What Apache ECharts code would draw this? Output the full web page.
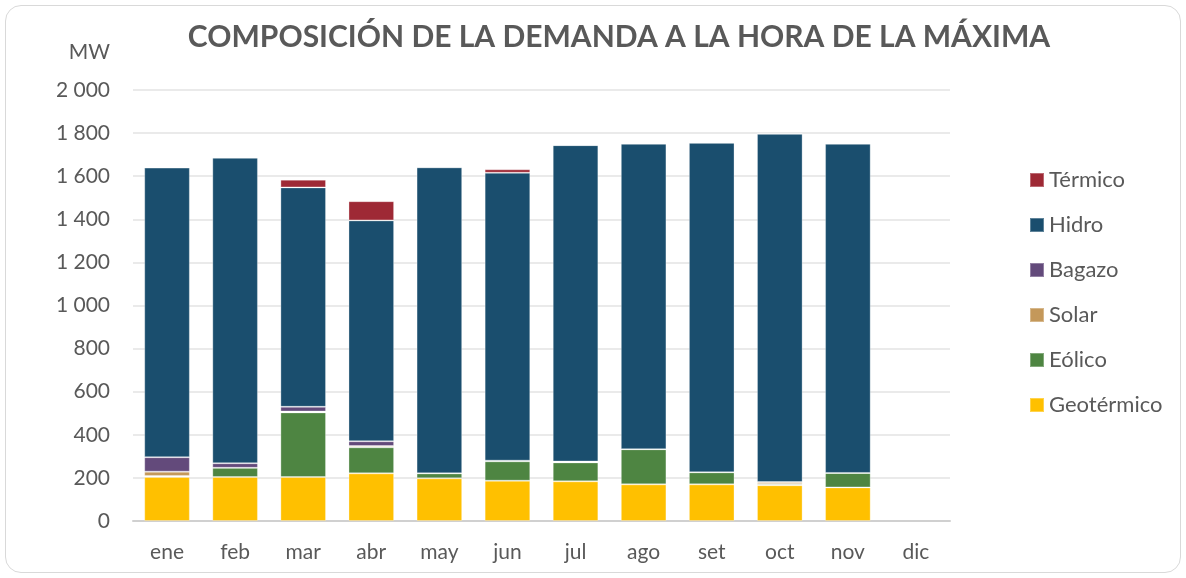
<!DOCTYPE html>
<html>
<head>
<meta charset="utf-8">
<script src="https://cdn.jsdelivr.net/npm/echarts@6/dist/echarts.min.js"></script>
<style>
    html, body { margin: 0; padding: 0; background: #fff; }
    #frame {
        position: absolute; left: 5px; top: 5px; width: 1176px; height: 568px;
        border: 1px solid #d9d9d9; border-radius: 16px; box-sizing: border-box;
    }
    #chart { position: absolute; left: 0; top: 0; width: 1186px; height: 578px; }
</style>
</head>
<body>
<div id="frame"></div>
<div id="chart"></div>
<script>
// --- datos (MW) ---
const months = ['ene', 'feb', 'mar', 'abr', 'may', 'jun', 'jul', 'ago', 'set', 'oct', 'nov', 'dic'];
const geotermico = [204, 204, 204, 221, 198, 187, 184, 170, 170, 166, 156, null];
const eolico     = [5, 43, 300, 121, 23, 90, 88, 163, 56, 6, 67, null];
const solar      = [20, 0, 4, 6, 0, 3, 4, 0, 0, 9, 0, null];
const bagazo     = [67, 21, 22, 22, 0, 0, 0, 0, 0, 0, 0, null];
const hidro      = [1344, 1418, 1018, 1025, 1420, 1336, 1468, 1418, 1529, 1616, 1528, null];
const termico    = [0, 0, 36, 89, 0, 16, 0, 0, 0, 0, 0, null];

const colors = {
    'Geotérmico': '#ffc000',
    'Eólico': '#4e8542',
    'Solar': '#c4985a',
    'Bagazo': '#634a7b',
    'Hidro': '#1a4e6e',
    'Térmico': '#9e2935'
};

const FONT = 'Lato';
const chart = echarts.init(document.getElementById('chart'));

function bar(name, data) {
    return {
        name: name,
        type: 'bar',
        stack: 'total',
        barCategoryGap: '33%',
        data: data,
        itemStyle: {
            color: colors[name],
            borderColor: 'rgba(255,255,255,0.3)',
            borderWidth: 1
        }
    };
}

chart.setOption({
    animation: false,
    title: {
        text: 'COMPOSICIÓN DE LA DEMANDA A LA HORA DE LA MÁXIMA',
        left: 614,
        textAlign: 'center',
        top: 17,
        textStyle: { fontFamily: FONT, fontWeight: 'bold', fontSize: 30, color: '#595959' }
    },
    legend: {
        orient: 'vertical',
        left: 1029,
        top: 169,
        padding: 0,
        itemWidth: 14,
        itemHeight: 14,
        itemGap: 23,
        icon: 'rect',
        data: ['Térmico', 'Hidro', 'Bagazo', 'Solar', 'Eólico', 'Geotérmico'],
        textStyle: { fontFamily: FONT, fontSize: 22, color: '#595959' }
    },
    grid: { left: 133, right: 236, top: 90, bottom: 57 },
    xAxis: {
        type: 'category',
        data: months,
        axisTick: { show: false },
        axisLine: { lineStyle: { color: '#d0d0d0', width: 2 } },
        axisLabel: { fontFamily: FONT, fontSize: 21, color: '#595959', margin: 21 }
    },
    yAxis: {
        type: 'value',
        min: 0,
        max: 2000,
        interval: 200,
        name: 'MW',
        nameGap: 27,
        nameTextStyle: { fontFamily: FONT, fontSize: 21, color: '#595959', align: 'right', padding: [0, 23, 0, 0] },
        axisLine: { show: false },
        axisTick: { show: false },
        splitLine: { lineStyle: { color: '#e3e3e3', width: 1.5 } },
        axisLabel: {
            fontFamily: FONT, fontSize: 21, color: '#595959', margin: 23,
            formatter: v => String(v).replace(/\B(?=(\d{3})+(?!\d))/g, ' ')
        }
    },
    series: [
        bar('Geotérmico', geotermico),
        bar('Eólico', eolico),
        bar('Solar', solar),
        bar('Bagazo', bagazo),
        bar('Hidro', hidro),
        bar('Térmico', termico)
    ]
});
</script>
</body>
</html>
